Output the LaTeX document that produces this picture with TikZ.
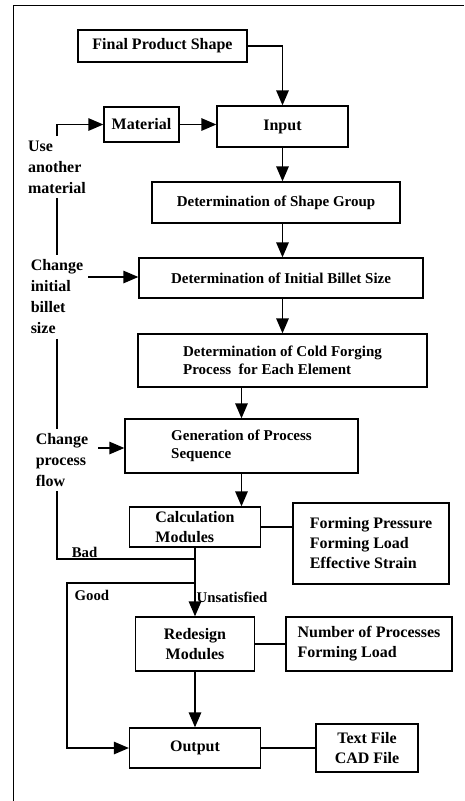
\documentclass[tikz,border=0pt]{standalone}
\usepackage{fontspec}
\setmainfont{Liberation Serif}
\usetikzlibrary{arrows.meta,positioning}

\begin{document}
\begin{tikzpicture}[
  x=1pt, y=-1pt, line width=1.3pt, >={Triangle[length=15pt,width=12.5pt]},
  box/.style={draw, rectangle, align=center, inner sep=2pt, font=\bfseries\fontsize{16}{20}\selectfont},
  detbox/.style={box, font=\bfseries\fontsize{15}{17.5}\selectfont},
  note/.style={align=left, inner sep=4pt, font=\bfseries\fontsize{16}{21}\selectfont},
  tag/.style={inner sep=1pt, font=\bfseries\fontsize{14.8}{18}\selectfont},
]
  \useasboundingbox (0,0) rectangle (464,801);
  \draw[line width=1pt] (13,801) |- (464,5);

  % main column
  \node[box, minimum width=169pt, minimum height=32pt] (fps) at (162.5,46) {Final Product Shape};
  \node[box, minimum width=75pt, minimum height=35pt] (material) at (141.5,124.5) {Material};
  \node[box, minimum width=131pt, minimum height=41pt] (input) at (282.5,126.5) {Input};
  \node[detbox, minimum width=248pt, minimum height=41pt] (shape) at (276,202.5) {Determination of Shape Group};
  \node[detbox, minimum width=284pt, minimum height=40pt] (billet) at (281,278) {Determination of Initial Billet Size};
  \node[detbox, align=left, minimum width=289pt, minimum height=53pt] (cold) at (282.5,360.5) {Determination of Cold Forging\\Process\ \ for Each Element};
  \node[detbox, align=left, minimum width=233pt, minimum height=54pt] (gen) at (241.5,446) {Generation of Process\\Sequence};
  \node[box, align=left, minimum width=131pt, minimum height=40pt] (calc) at (195,527) {Calculation\\Modules};
  \node[box, minimum width=119pt, minimum height=54pt] (redesign) at (195,644) {Redesign\\Modules};
  \node[box, minimum width=131pt, minimum height=40pt] (output) at (195,748) {Output};

  % side boxes
  \node[box, align=left, minimum width=156pt, minimum height=81pt] (form) at (371,543.5) {Forming Pressure\\Forming Load\\Effective Strain};
  \node[box, align=left, minimum width=166pt, minimum height=54pt] (number) at (369,644) {Number of Processes\\Forming Load};
  \node[box, minimum width=102pt, minimum height=48pt] (files) at (367,748) {Text File\\CAD File};

  % feedback labels
  \node[note] (usemat) at (57,167) {Use\\another\\material};
  \node[note] (chbillet) at (57,297) {Change\\initial\\billet\\size};
  \node[note] (chflow) at (62,460) {Change\\process\\flow};
  \coordinate (cb) at (88,277);
  \coordinate (cf) at (98,448);
  \coordinate (badturn) at (195,559);
  \coordinate (goodturn) at (195,583);
  \coordinate (goodleft) at (67,583);

  \draw[->] (fps.east) -| (input.north);
  \draw[->] (material.east) -- (material.east -| input.west);
  \draw[->] (usemat.north) |- (material.west);
  \draw[->] (input.south) -- (input.south |- shape.north);
  \draw[->] (shape.south -| input.south) -- (input.south |- billet.north);
  \draw[->] (billet.south -| input.south) -- (input.south |- cold.north);
  \draw[->] (cold.south -| gen.north) -- (gen.north);
  \draw[->] (gen.south) -- (gen.south |- calc.north);
  \draw (calc.east) -- (calc.east -| form.west);
  \draw[->] (calc.south) -- node[tag, right, pos=0.73] (unsat) {Unsatisfied} (redesign.north);
  \draw (redesign) -- (number);
  \draw[->] (redesign) -- (output);
  \draw (output) -- (files);
  \draw[->] (cb) -- (cb -| billet.west);
  \draw[->] (cf) -- (cf -| gen.west);

  % loops back
  \draw (usemat.south) -- (usemat.south |- chbillet.north);
  \draw (chbillet.south -| usemat.south) -- (usemat.south |- chflow.north);
  \draw (badturn) -- node[tag, above, pos=0.8] (bad) {Bad} (badturn -| usemat.south) -- (usemat.south |- chflow.south);
  \draw[->] (goodturn) -- (goodleft) |- (output.west);
  \node[tag, below right=6pt and 6pt of goodleft] (good) {Good};
\end{tikzpicture}
\end{document}
